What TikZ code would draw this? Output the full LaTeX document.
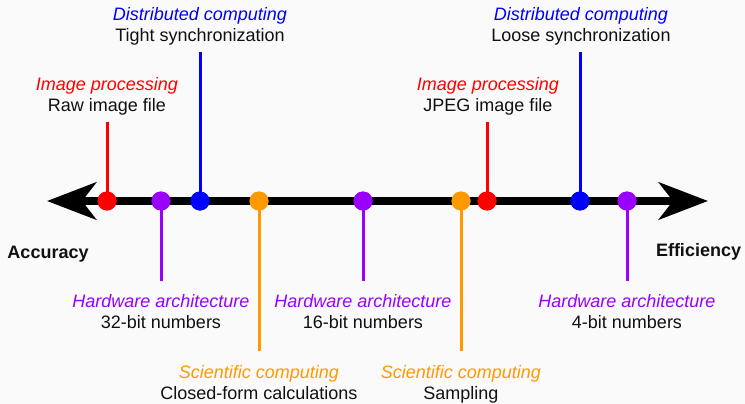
\documentclass[tikz,border=0pt]{standalone}
\usepackage{fontspec}
\setmainfont{Liberation Sans}
\usetikzlibrary{arrows.meta}
\definecolor{bg}{HTML}{FAFAFA}
\definecolor{cred}{HTML}{FF0000}
\definecolor{cblue}{HTML}{0000FF}
\definecolor{cpurple}{HTML}{9900FF}
\definecolor{corange}{HTML}{FF9900}
\definecolor{ctext}{HTML}{111111}
\begin{document}
\begin{tikzpicture}[x=1pt,y=-1pt,
  every node/.style={font=\fontsize{18}{21}\selectfont, inner sep=0pt, outer sep=0pt},
  cat/.style={anchor=base, font=\fontsize{18}{21}\selectfont\itshape},
  val/.style={anchor=base, text=ctext},
  endlabel/.style={anchor=base west, font=\fontsize{18}{21}\selectfont\bfseries, text=ctext},
  dot/.style={circle, minimum size=19pt, fill=#1},
  stem/.style={line width=3pt, draw=#1},
  axisline/.style={line width=8.5pt, {Stealth[length=49pt,width=37pt,inset=14pt]}-{Stealth[length=49pt,width=37pt,inset=14pt]}}
]
\useasboundingbox (0,0) rectangle (745,404);
\fill[bg] (0,0) rectangle (745,404);

% axis
\coordinate (L) at (47,201);
\coordinate (R) at (708,201);
\draw[axisline] (L) -- (R);

% stem end points
\coordinate (t1) at (107,122);
\coordinate (t2) at (200,52);
\coordinate (t3) at (487,122);
\coordinate (t4) at (580,52);
\coordinate (b1) at (161,281);
\coordinate (b2) at (363,281);
\coordinate (b3) at (627,281);
\coordinate (b4) at (259,351);
\coordinate (b5) at (461,351);

% dots (positions)
\path (107,201) node[dot=cred] (d1) {};
\path (161,201) node[dot=cpurple] (d2) {};
\path (200,201) node[dot=cblue] (d3) {};
\path (259,201) node[dot=corange] (d4) {};
\path (363,201) node[dot=cpurple] (d5) {};
\path (461,201) node[dot=corange] (d6) {};
\path (487,201) node[dot=cred] (d7) {};
\path (580,201) node[dot=cblue] (d8) {};
\path (627,201) node[dot=cpurple] (d9) {};

% stems
\draw[stem=cred] (t1) -- (d1.center);
\draw[stem=cblue] (t2) -- (d3.center);
\draw[stem=cred] (t3) -- (d7.center);
\draw[stem=cblue] (t4) -- (d8.center);
\draw[stem=cpurple] (d2.center) -- (b1);
\draw[stem=cpurple] (d5.center) -- (b2);
\draw[stem=cpurple] (d9.center) -- (b3);
\draw[stem=corange] (d4.center) -- (b4);
\draw[stem=corange] (d6.center) -- (b5);

% redraw dots on top
\foreach \n/\c in {d1/cred,d2/cpurple,d3/cblue,d4/corange,d5/cpurple,d6/corange,d7/cred,d8/cblue,d9/cpurple}
  \fill[\c] (\n.center) circle (9.5pt);

% top labels
\node[cat, text=cred] (l1a) at (107,91) {Image processing};
\node[val] (l1b) at (107,112) {Raw image file};
\node[cat, text=cblue] (l2a) at (200,20.5) {Distributed computing};
\node[val] (l2b) at (200,41.5) {Tight synchronization};
\node[cat, text=cred] (l3a) at (488,91) {Image processing};
\node[val] (l3b) at (488,112) {JPEG image file};
\node[cat, text=cblue] (l4a) at (581,20.5) {Distributed computing};
\node[val] (l4b) at (581,41.5) {Loose synchronization};

% bottom labels
\node[cat, text=cpurple] (l5a) at (161,307) {Hardware architecture};
\node[val] (l5b) at (161,328) {32-bit numbers};
\node[cat, text=cpurple] (l6a) at (363,307) {Hardware architecture};
\node[val] (l6b) at (363,328) {16-bit numbers};
\node[cat, text=cpurple] (l7a) at (627,307) {Hardware architecture};
\node[val] (l7b) at (627,328) {4-bit numbers};
\node[cat, text=corange] (l8a) at (259,378) {Scientific computing};
\node[val] (l8b) at (259,399) {Closed-form calculations};
\node[cat, text=corange] (l9a) at (461,378) {Scientific computing};
\node[val] (l9b) at (461,399) {Sampling};

% end labels
\node[endlabel] (acc) at (7.5,258) {Accuracy};
\node[endlabel] (eff) at (656,256) {Efficiency};
\end{tikzpicture}
\end{document}
